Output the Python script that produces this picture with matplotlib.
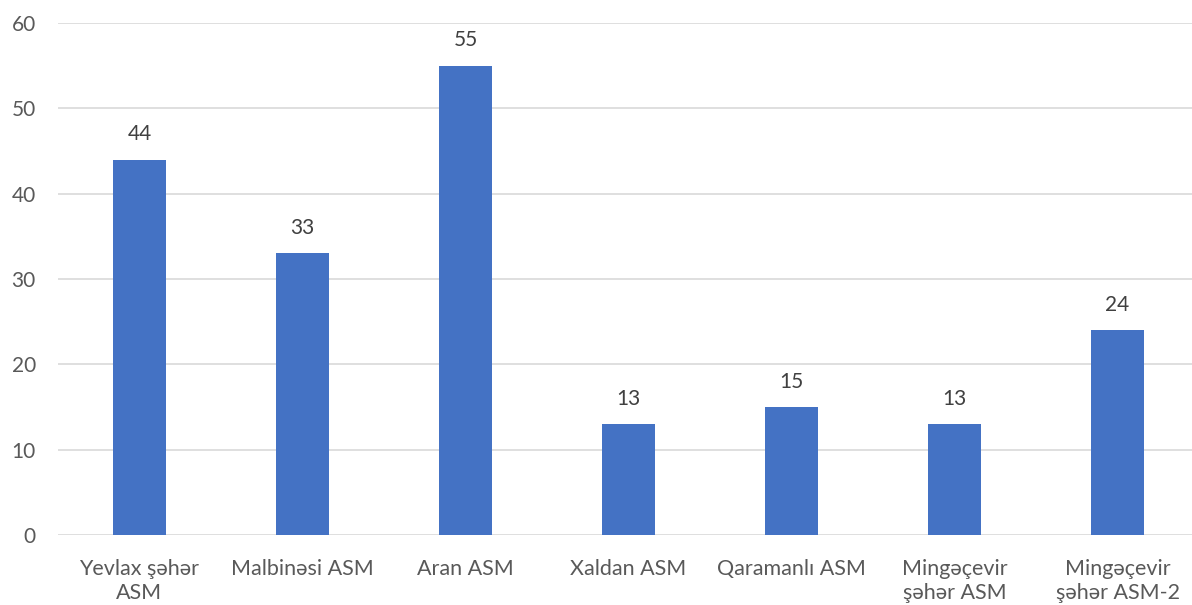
import matplotlib
matplotlib.use("Agg")
import matplotlib.pyplot as plt

# data
categories = ["Yevlax şəhər\nASM", "Malbinəsi ASM", "Aran ASM", "Xaldan ASM",
              "Qaramanlı ASM", "Mingəçevir\nşəhər ASM", "Mingəçevir\nşəhər ASM-2"]
values = [44, 33, 55, 13, 15, 13, 24]

plt.rcParams['font.family'] = ['Lato', 'DejaVu Sans']
txt = '#595959'

fig = plt.figure(figsize=(11.92, 6.05), dpi=100)
ax = fig.add_axes([58 / 1192, 70 / 605, 1141 / 1192, 512 / 605])

x = range(len(categories))
bars = ax.bar(x, values, width=0.32, color='#4472C4', zorder=3)
for b, v in zip(bars, values):
    ax.text(b.get_x() + b.get_width() / 2, v + 1.8, str(v), ha='center', va='bottom',
            fontsize=15, color='#404040')

ax.set_xlim(-0.5, len(categories) - 0.5)
ax.set_ylim(0, 60)
ax.set_yticks(range(0, 61, 10))
ax.set_xticks(list(x))
ax.set_xticklabels(categories, fontsize=15.5, color=txt, linespacing=1.25)
ax.tick_params(axis='y', labelsize=15, labelcolor=txt, length=0, pad=16)
ax.tick_params(axis='x', length=0, pad=17)
ax.grid(axis='y', color='#D9D9D9', linewidth=1.2, zorder=0)
for s in ax.spines.values():
    s.set_visible(False)

fig.savefig("out.png", dpi=100)
